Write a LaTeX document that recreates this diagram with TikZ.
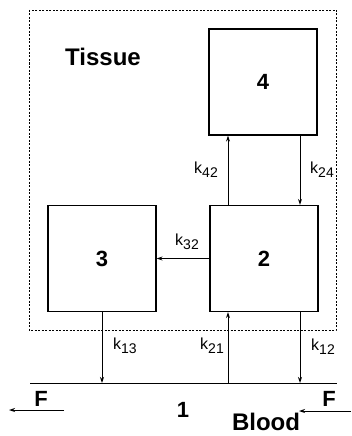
\documentclass[tikz,border=0pt]{standalone}
\usepackage{fontspec}
\setmainfont{Liberation Sans}
\usetikzlibrary{arrows.meta}
\newcommand{\rk}[1]{k\raisebox{-4pt}{\fontsize{14}{14}\selectfont #1}}
\begin{document}
\begin{tikzpicture}[x=1pt, y=-1pt, >={Stealth[length=6pt,width=4pt]}]
    \tikzset{
        comp/.style={draw, line width=1.2pt, minimum width=108pt, minimum height=106pt, font=\fontsize{22}{22}\bfseries},
        flux/.style={->, line width=1pt},
        rate/.style={font=\fontsize{16}{16}\selectfont},
        big/.style={font=\fontsize{22}{22}\bfseries},
    }
    \useasboundingbox (0,0) rectangle (351,436);

    % tissue region
    \draw[line width=0.8pt, dash pattern=on 2pt off 1.5pt] (29,10) rectangle (336,330);
    \node[font=\fontsize{24}{24}\bfseries] (tissue) at (103,57) {Tissue};

    % compartments
    \node[comp] (c4) at (263,82) {4};
    \node[comp] (c3) at (102,258.5) {3};
    \node[comp] (c2) at (264,258.5) {2};

    % blood
    \coordinate (bl) at (30,383);
    \coordinate (br) at (337,383);
    \draw[line width=1pt] (bl) -- (br);
    \node[big] (n1) at (183,410) {1};
    \node[font=\fontsize{24}{24}\bfseries] (blood) at (266,422) {Blood};

    % exchange between compartments
    \draw[flux] ([xshift=-36pt]c2.north) -- ([xshift=-36pt]c2.north |- c4.south);
    \draw[flux] ([xshift=37pt]c4.south) -- ([xshift=37pt]c4.south |- c2.north);
    \draw[flux] (c2.west) -- (c3.east);
    \draw[flux] (c3.south) -- (c3.south |- bl);
    \draw[flux] ([xshift=-36pt]c2.south |- bl) -- ([xshift=-36pt]c2.south);
    \draw[flux] ([xshift=36pt]c2.south) -- ([xshift=36pt]c2.south |- bl);

    \node[rate] (k42) at (206,170) {\rk{42}};
    \node[rate] (k24) at (322,170) {\rk{24}};
    \node[rate] (k32) at (187,242) {\rk{32}};
    \node[rate] (k13) at (125,346) {\rk{13}};
    \node[rate] (k21) at (212,346) {\rk{21}};
    \node[rate] (k12) at (323,347) {\rk{12}};

    % flow
    \node[big] (fl) at (41,399) {F};
    \node[big] (fr) at (329,399) {F};
    \coordinate (flt) at (64,410);
    \coordinate (flh) at (9,410);
    \coordinate (frt) at (351,411);
    \coordinate (frh) at (299,411);
    \draw[flux] (flt) -- (flh);
    \draw[flux] (frt) -- (frh);
\end{tikzpicture}
\end{document}
